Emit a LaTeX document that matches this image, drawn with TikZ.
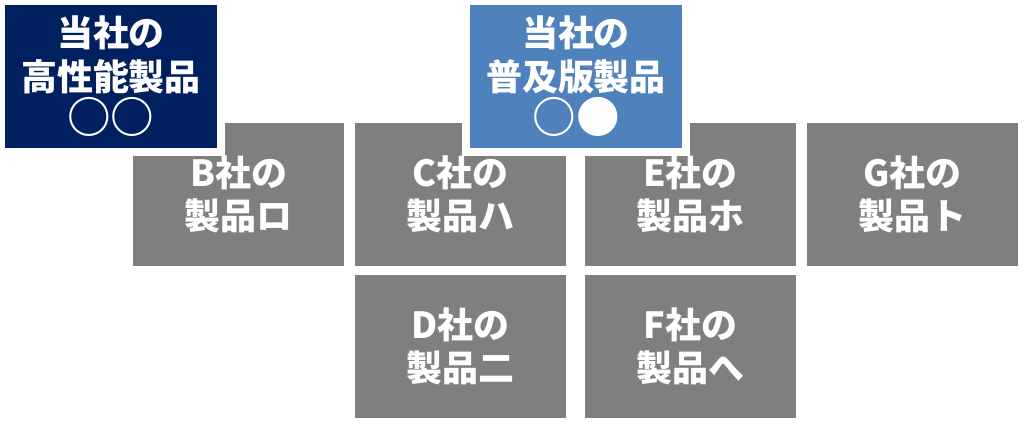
\documentclass[tikz,border=0pt]{standalone}
\usepackage{fontspec}
\setmainfont{Noto Sans CJK JP}
\usetikzlibrary{positioning}
\definecolor{navybox}{HTML}{002060}
\definecolor{bluebox}{HTML}{4F81BD}
\definecolor{graybox}{HTML}{7F7F7F}
\newcommand{\rankmarks}[1]{{\fontsize{31}{31}\selectfont #1}}

\begin{document}
\begin{tikzpicture}[node distance=0.275cm]
    \tikzstyle{rival} = [rectangle, fill=graybox, text=white, align=center, minimum width=5.275cm, minimum height=3.575cm, inner sep=0pt, outer sep=0pt, font=\fontsize{25.6}{31}\selectfont\bfseries]
    \tikzstyle{ours} = [rival, draw=white, line width=0.2cm, minimum width=5.5cm, minimum height=3.775cm]

    \useasboundingbox (0,0) rectangle (25.6,-10.55);

    % Nodes
    \node[rival] (b) at (5.9625,-4.8625) {B社の\\製品ロ};
    \node[rival, right=of b] (c) {C社の\\製品ハ};
    \node[rival, right=0.475cm of c] (e) {E社の\\製品ホ};
    \node[rival, right=of e] (g) {G社の\\製品ト};
    \node[rival, below=0.225cm of c] (d) {D社の\\製品二};
    \node[rival, below=0.225cm of e] (f) {F社の\\製品へ};

    \node[ours, fill=navybox] (high) at (2.775,-1.9125) {当社の\\高性能製品\\\rankmarks{○○}};
    \node[ours, fill=bluebox] (std) at (14.4,-1.9125) {当社の\\普及版製品\\\rankmarks{○●}};
\end{tikzpicture}
\end{document}
